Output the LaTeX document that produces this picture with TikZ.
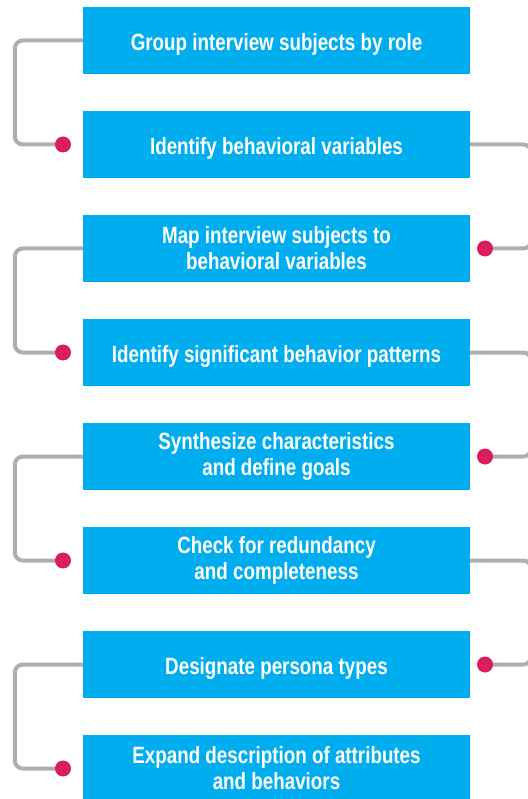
\documentclass[tikz,border=0pt]{standalone}
\usepackage{fontspec}
\setmainfont{Liberation Sans}[FakeStretch=0.8]
\usetikzlibrary{backgrounds}
\definecolor{boxblue}{HTML}{00AEEF}
\definecolor{dotred}{HTML}{DB1F5E}
\definecolor{linegray}{HTML}{B5ADA8}
\tikzset{
  stepbox/.style={fill=boxblue, draw=none, minimum width=387pt, minimum height=67pt, inner sep=0pt,
    text=white, font=\bfseries\fontsize{23.5pt}{26pt}\selectfont, align=center,
    execute at begin node={\rule{0pt}{25pt}}},
  dotnode/.style={circle, fill=dotred, minimum size=16pt, inner sep=0pt},
  conn/.style={draw=linegray, line width=4pt, rounded corners=8pt},
}
\begin{document}
\begin{tikzpicture}[x=1pt,y=-1pt]
\useasboundingbox (0,0) rectangle (527,799);
\node[stepbox] (b1) at (276.5,40.5) {Group interview subjects by role};
\node[stepbox] (b2) at (276.5,144.5) {Identify behavioral variables};
\node[stepbox] (b3) at (276.5,248.5) {Map interview subjects to\\behavioral variables};
\node[stepbox] (b4) at (276.5,352.5) {Identify significant behavior patterns};
\node[stepbox] (b5) at (276.5,456.5) {Synthesize characteristics\\and define goals};
\node[stepbox] (b6) at (276.5,560.5) {Check for redundancy\\and completeness};
\node[stepbox] (b7) at (276.5,664.5) {Designate persona types};
\node[stepbox] (b8) at (276.5,768.5) {Expand description of attributes\\and behaviors};
\node[dotnode] (d2) at (63,144.5) {};
\node[dotnode] (d3) at (485,248.5) {};
\node[dotnode] (d4) at (63,352.5) {};
\node[dotnode] (d5) at (485,456.5) {};
\node[dotnode] (d6) at (63,560.5) {};
\node[dotnode] (d7) at (485,664.5) {};
\node[dotnode] (d8) at (63,768.5) {};
\begin{scope}[on background layer]
\draw[conn] (b1.west) -- ++(-68,0) |- (d2.center);
\draw[conn] (b2.east) -- ++(61,0) |- (d3.center);
\draw[conn] (b3.west) -- ++(-68,0) |- (d4.center);
\draw[conn] (b4.east) -- ++(61,0) |- (d5.center);
\draw[conn] (b5.west) -- ++(-68,0) |- (d6.center);
\draw[conn] (b6.east) -- ++(61,0) |- (d7.center);
\draw[conn] (b7.west) -- ++(-68,0) |- (d8.center);
\end{scope}
\end{tikzpicture}
\end{document}
